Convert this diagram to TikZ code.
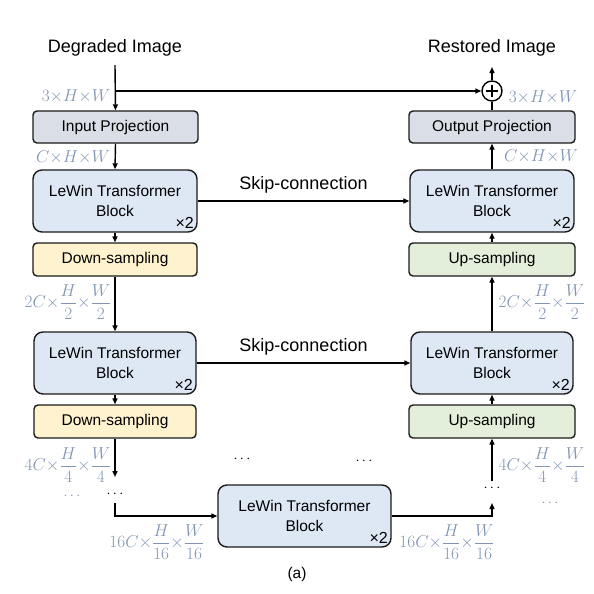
\documentclass[tikz,border=0pt]{standalone}
\usepackage{fontspec}
\setmainfont{Liberation Sans}
\usetikzlibrary{arrows.meta}
\definecolor{dimc}{HTML}{8296B4}
\definecolor{projc}{HTML}{D9DEE7}
\definecolor{lewc}{HTML}{DEE8F4}
\definecolor{downc}{HTML}{FFF2CF}
\definecolor{upc}{HTML}{E3EFDA}
\definecolor{edgec}{HTML}{1A1A1A}
\newcommand{\tx}{\mathord{\times}}
\tikzset{
  x=1pt, y=-1pt,
  >={Triangle[length=6pt,width=5pt]},
  conn/.style={line width=1.4pt, draw=black},
  boxbase/.style={draw=edgec, line width=1.4pt, align=center, inner sep=0pt},
  projbox/.style={boxbase, fill=projc, rounded corners=4pt, minimum width=165pt, minimum height=32pt, font=\fontsize{15.5}{18}\selectfont},
  lewbox/.style={boxbase, fill=lewc, rounded corners=9pt, minimum width=164pt, minimum height=62pt, font=\fontsize{15.5}{20}\selectfont},
  downbox/.style={boxbase, fill=downc, rounded corners=4pt, minimum width=164pt, minimum height=33pt, font=\fontsize{15.5}{18}\selectfont},
  upbox/.style={boxbase, fill=upc, rounded corners=4pt, minimum width=166pt, minimum height=33pt, font=\fontsize{15.5}{18}\selectfont},
  title/.style={font=\fontsize{18}{20}\selectfont, inner sep=0pt},
  dimlab/.style={text=dimc, font=\fontsize{16}{18}\selectfont, inner sep=0pt},
  times/.style={font=\fontsize{16}{18}\selectfont, inner sep=0pt},
  dotsb/.style={font=\fontsize{15}{17}\selectfont, inner sep=0pt},
  dotsg/.style={text=dimc, font=\fontsize{15}{17}\selectfont, inner sep=0pt},
}
\begin{document}
\begin{tikzpicture}
\useasboundingbox (0,0) rectangle (594,594);
% titles
\node[title] (deg) at (115,48) {Degraded Image};
\node[title] (rest) at (492,48) {Restored Image};
% left column
\node[projbox] (inp) at (115.5,127) {Input Projection};
\node[lewbox] (lw1) at (115,201) {LeWin Transformer\\Block};
\node[downbox] (ds1) at (115,259.5) {Down-sampling};
\node[lewbox, minimum width=162pt] (lw2) at (115,363) {LeWin Transformer\\Block};
\node[downbox, minimum width=162pt] (ds2) at (115,421.5) {Down-sampling};
% bottom
\node[lewbox, minimum width=173pt] (lwb) at (304.5,516) {LeWin Transformer\\Block};
% right column
\node[projbox, minimum width=166pt] (outp) at (492,127) {Output Projection};
\node[lewbox] (lwr1) at (492,201) {LeWin Transformer\\Block};
\node[upbox] (up1) at (492,259.5) {Up-sampling};
\node[lewbox, minimum width=162pt] (lwr2) at (492,363) {LeWin Transformer\\Block};
\node[upbox] (up2) at (492,421.5) {Up-sampling};
\node[draw=black, line width=1.4pt, circle, minimum size=20pt, inner sep=0pt, fill=white] (plus) at (492,91) {};
\draw[line width=1.4pt] ([yshift=-6pt]plus.center) -- ([yshift=6pt]plus.center) ([xshift=-6pt]plus.center) -- ([xshift=6pt]plus.center);
% x2 labels
\foreach \n in {lw1,lw2,lwb,lwr1,lwr2} {
  \node[times] (x\n) at ([xshift=-13pt,yshift=10pt]\n.south east) {×2};
}
% dots
\node[dotsb] (dl) at (115,494) {$\cdots$};
\node[dotsg] (dlg) at (72,496) {$\cdots$};
\node[dotsb] (dr) at (492,488) {$\cdots$};
\node[dotsg] (drg) at (550,503) {$\cdots$};
\node[dotsb] (dm1) at (242,459) {$\cdots$};
\node[dotsb] (dm2) at (364,461) {$\cdots$};
% coordinates
\coordinate (degb) at (115,65);
\coordinate (br) at (115,91);
\coordinate (dsend) at (115,477);
\coordinate (dlb) at (115,503);
\coordinate (dlc) at (115,516);
\coordinate (drc) at (492,516);
\coordinate (drb) at (492,503);
\coordinate (upst) at (492,481);
\coordinate (resb) at (492,67);
% connectors
\draw[conn,->] (degb) -- (inp.north);
\draw[conn,->] (br) -- (plus.west);
\draw[conn,->] (inp.south) -- (lw1.north);
\draw[conn,->] (lw1.south) -- (ds1.north);
\draw[conn,->] (ds1.south) -- (lw2.north);
\draw[conn,->] (lw2.south) -- (ds2.north);
\draw[conn,->] (ds2.south) -- (dsend);
\draw[conn,->] (dlb) -- (dlc) -- (lwb.west);
\draw[conn,->] (lwb.east) -- (drc) -- (drb);
\draw[conn,->] (upst) -- (up2.south);
\draw[conn,->] (up2.north) -- (lwr2.south);
\draw[conn,->] (lwr2.north) -- (up1.south);
\draw[conn,->] (up1.north) -- (lwr1.south);
\draw[conn,->] (lwr1.north) -- (outp.south);
\draw[conn] (outp.north) -- (plus.south);
\draw[conn,->] (plus.north) -- (resb);
\draw[conn,->] (lw1.east) -- node[title, above=7pt] (sk1) {Skip-connection} (lwr1.west);
\draw[conn,->] (lw2.east) -- node[title, above=7pt] (sk2) {Skip-connection} (lwr2.west);
% dimension labels
\node[dimlab] (d1) at (76,96) {$3\tx H\tx W$};
\node[dimlab] (d2) at (73,157) {$C\tx H\tx W$};
\node[dimlab] (d3) at (68,302) {$\displaystyle 2C\tx\frac{H}{2}\tx\frac{W}{2}$};
\node[dimlab] (d4) at (68,465) {$\displaystyle 4C\tx\frac{H}{4}\tx\frac{W}{4}$};
\node[dimlab] (d5) at (157,542) {$\displaystyle 16C\tx\frac{H}{16}\tx\frac{W}{16}$};
\node[dimlab] (d6) at (447,542) {$\displaystyle 16C\tx\frac{H}{16}\tx\frac{W}{16}$};
\node[dimlab] (d7) at (542,465) {$\displaystyle 4C\tx\frac{H}{4}\tx\frac{W}{4}$};
\node[dimlab] (d8) at (542,302) {$\displaystyle 2C\tx\frac{H}{2}\tx\frac{W}{2}$};
\node[dimlab] (d9) at (541,156) {$C\tx H\tx W$};
\node[dimlab] (d10) at (543,97) {$3\tx H\tx W$};
% caption
\node[font=\fontsize{15.5}{18}\selectfont, inner sep=0pt] (cap) at (297,574) {(a)};
\end{tikzpicture}
\end{document}
